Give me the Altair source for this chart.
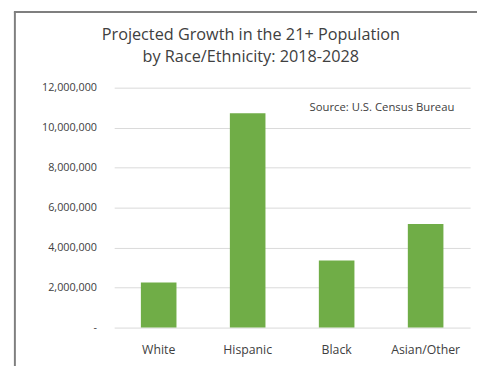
import altair as alt
import pandas as pd

categories = ["White", "Hispanic", "Black", "Asian/Other"]
growth = [2250000, 10720000, 3360000, 5180000]
y_ticks = [0, 2000000, 4000000, 6000000, 8000000, 10000000, 12000000]
title_lines = ["Projected Growth in the 21+ Population", "by Race/Ethnicity: 2018-2028"]
source_note = "Source: U.S. Census Bureau"

df = pd.DataFrame({"group": categories, "growth": growth})

FONT = "Open Sans"

bars = alt.Chart(df).mark_bar(color="#70AD47").encode(
    x=alt.X("group:N", sort=categories,
            scale=alt.Scale(paddingInner=0.6, paddingOuter=0.3),
            axis=alt.Axis(title=None, labelAngle=0, domain=False, ticks=False, grid=False,
                          labelPadding=16, labelFontSize=12.5, labelColor="#404040",
                          labelFont=FONT)),
    y=alt.Y("growth:Q", scale=alt.Scale(domain=[0, 12000000], nice=False),
            axis=alt.Axis(title=None, values=y_ticks, domain=False, ticks=False,
                          labelExpr="datum.value == 0 ? '-' : format(datum.value, ',')",
                          labelPadding=18, labelFontSize=11, labelColor="#404040",
                          labelFont=FONT, gridColor="#d9d9d9", gridWidth=1)),
)

def text_layer(s, x, y, size, align="center"):
    return alt.Chart(pd.DataFrame({"t": [s]})).mark_text(
        align=align, baseline="middle", fontSize=size, font=FONT, color="#404040"
    ).encode(text="t:N", x=alt.value(x), y=alt.value(y))

title1 = text_layer(title_lines[0], 139, -53, 16.5)
title2 = text_layer(title_lines[1], 139, -31, 16.5)
note = text_layer(source_note, 346, 21, 11.5, align="right")

frame_left = alt.Chart(pd.DataFrame({"a": [0]})).mark_rule(color="#7f7f7f", strokeWidth=2).encode(
    x=alt.value(-101), y=alt.value(-77), y2=alt.value(300))
frame_top = alt.Chart(pd.DataFrame({"a": [0]})).mark_rule(color="#7f7f7f", strokeWidth=2).encode(
    x=alt.value(-102), x2=alt.value(380), y=alt.value(-77))

chart = alt.layer(frame_left, frame_top, bars, note, title1, title2).properties(
    width=362, height=244,
    padding={"left": 108, "top": 78, "right": 7, "bottom": 36},
    autosize=alt.AutoSizeParams(type="none"),
    background="white",
).configure_view(strokeWidth=0)

chart.save("out.html", embed_options={"renderer": "svg", "actions": False})
